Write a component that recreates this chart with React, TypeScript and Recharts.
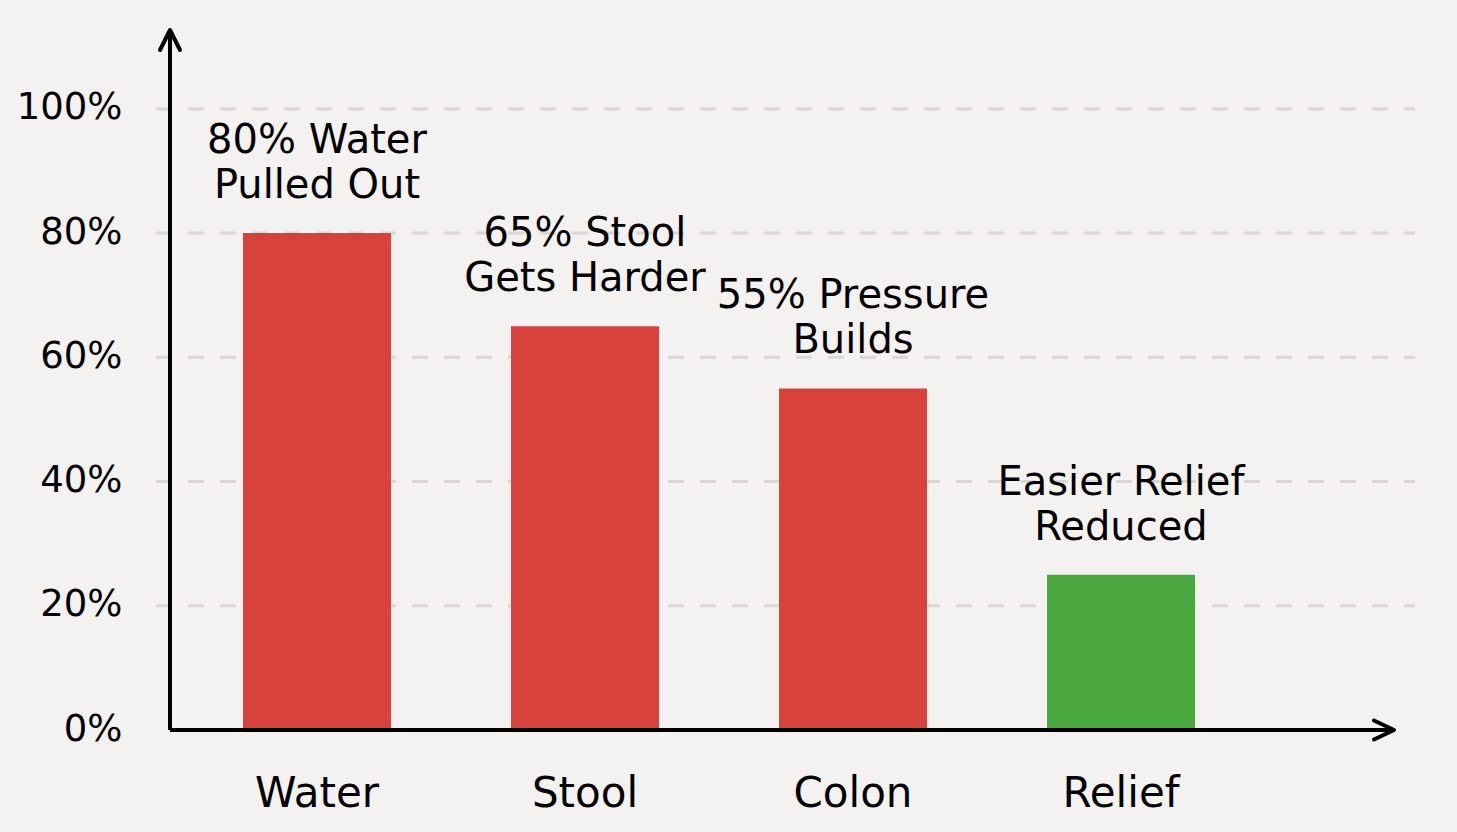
import React from 'react';
import { BarChart, Bar, XAxis, YAxis, CartesianGrid, Cell, LabelList } from 'recharts';

const categories = ['Water', 'Stool', 'Colon', 'Relief'];
const values = [80, 65, 55, 25];
const annotations = [
  '80% Water\nPulled Out',
  '65% Stool\nGets Harder',
  '55% Pressure\nBuilds',
  'Easier Relief\nReduced',
];
const barColors = ['#d9413c', '#d9413c', '#d9413c', '#4aa63f'];
const yTicks = [0, 20, 40, 60, 80, 100];
const gridValues = [20, 40, 60, 80, 100];

const data = categories.map((name, i) => ({ name, value: values[i], label: annotations[i] }));

const GRID = '#d9d6d3';

const YTick = (props: any) => {
  const { x, y, payload } = props;
  return (
    <text x={x} y={y} dy={10.5} textAnchor="end" fontSize={37} fill="#000">
      {`${payload.value}%`}
    </text>
  );
};

const renderLabel = (props: any) => {
  const { x, y, width, value } = props;
  const lines = String(value).split('\n');
  const cx = Number(x) + Number(width) / 2;
  return (
    <text textAnchor="middle" fontSize={40} fill="#000">
      {lines.map((l, i) => (
        <tspan key={i} x={cx} y={Number(y) - 80 + i * 45}>
          {l}
        </tspan>
      ))}
    </text>
  );
};

const gridLine = (p: any) => {
  return (
    <line
      key={p.key ?? `g-${p.index}`}
      x1={p.x1 - 14}
      x2={p.x2 + 21}
      y1={p.y1}
      y2={p.y2}
      stroke={GRID}
      strokeWidth={3}
      strokeDasharray="16 16"
      fill="none"
    />
  );
};

export default function App() {
  return (
    <div
      style={{
        position: 'fixed',
        left: 0,
        top: 0,
        width: 1457,
        height: 832,
        background: '#f3f2f0',
        fontFamily: '"DejaVu Sans", sans-serif',
      }}
    >
      <BarChart
        width={1457}
        height={832}
        data={data}
        margin={{ top: 30, right: 63, bottom: 42, left: 50 }}
      >
        <defs>
          <marker
            id="arrowUp"
            markerUnits="userSpaceOnUse"
            markerWidth={1}
            markerHeight={1}
            refX={0}
            refY={0}
            orient="0"
            overflow="visible"
          >
            <path
              d="M -10 20 L 0 0 L 10 20"
              fill="none"
              stroke="#000"
              strokeWidth={4}
              strokeLinecap="round"
              strokeLinejoin="round"
            />
          </marker>
          <marker
            id="arrowRight"
            markerUnits="userSpaceOnUse"
            markerWidth={1}
            markerHeight={1}
            refX={0}
            refY={0}
            orient="0"
            overflow="visible"
          >
            <path
              d="M -20 -9.5 L 0 0 L -20 9.5"
              fill="none"
              stroke="#000"
              strokeWidth={4}
              strokeLinecap="round"
              strokeLinejoin="round"
            />
          </marker>
        </defs>
        <CartesianGrid
          vertical={false}
          horizontal={gridLine}
          horizontalValues={gridValues}
        />
        <XAxis
          dataKey="name"
          height={60}
          padding={{ left: 13, right: 139 }}
          axisLine={{ stroke: '#000', strokeWidth: 4, markerEnd: 'url(#arrowRight)' } as any}
          tickLine={false}
          tickSize={0}
          tickMargin={47}
          tick={{ fontSize: 42, fill: '#000' }}
        />
        <YAxis
          width={120}
          domain={[0, 112.7]}
          ticks={yTicks}
          allowDataOverflow
          axisLine={{ stroke: '#000', strokeWidth: 4, markerStart: 'url(#arrowUp)' } as any}
          tickLine={false}
          tickSize={0}
          tickMargin={47.5}
          tick={<YTick />}
        />
        <Bar dataKey="value" barSize={148} isAnimationActive={false}>
          {data.map((d, i) => (
            <Cell key={d.name} fill={barColors[i]} />
          ))}
          <LabelList dataKey="label" content={renderLabel} />
        </Bar>
      </BarChart>
    </div>
  );
}
